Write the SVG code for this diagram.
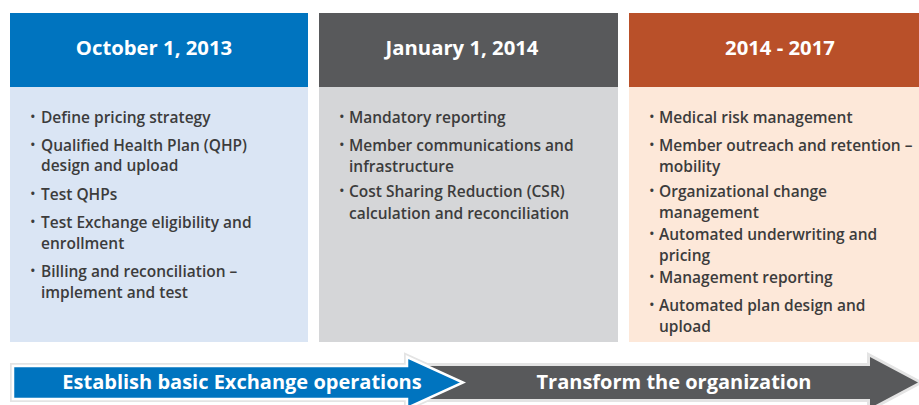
<svg xmlns="http://www.w3.org/2000/svg" width="919" height="405" viewBox="0 0 919 405">
<style>
.hd{font-family:"Open Sans","Liberation Sans",sans-serif;font-weight:700;font-size:20.3px;fill:#fff;text-anchor:middle}
.bt{font-family:"Open Sans","Liberation Sans",sans-serif;font-weight:600;font-size:15.5px;fill:#3c3c3c}
.bl{font-family:"Open Sans","Liberation Sans",sans-serif;font-size:15px;fill:#3c3c3c}
.ar{font-family:"Open Sans","Liberation Sans",sans-serif;font-weight:700;font-size:20px;fill:#fff;text-anchor:middle}
</style>
<rect width="919" height="405" fill="#fff"/>
<g id="col1">
<rect x="10" y="13" width="298" height="74" fill="#0074bf"/>
<rect x="10" y="87" width="298" height="255" fill="#dae5f4"/>
<text class="hd" x="154" y="55">October 1, 2013</text>
<g class="bl"><text x="30" y="122">•</text><text x="30" y="150">•</text><text x="30" y="199">•</text><text x="30" y="227">•</text><text x="30" y="276">•</text></g>
<text class="bt" x="41" y="122.5">Define pricing strategy</text>
<text class="bt" x="41" y="150.5">Qualified Health Plan (QHP)</text>
<text class="bt" x="41" y="170.5">design and upload</text>
<text class="bt" x="41" y="199.5">Test QHPs</text>
<text class="bt" x="41" y="227.5">Test Exchange eligibility and</text>
<text class="bt" x="41" y="248.5">enrollment</text>
<text class="bt" x="41" y="276.5">Billing and reconciliation –</text>
<text class="bt" x="41" y="297.5">implement and test</text>
</g>
<g id="col2">
<rect x="319" y="13" width="299" height="74" fill="#58595b"/>
<rect x="319" y="87" width="299" height="255" fill="#d5d6d8"/>
<text class="hd" x="462" y="55">January 1, 2014</text>
<g class="bl"><text x="339" y="122">•</text><text x="339" y="150">•</text><text x="339" y="196">•</text></g>
<text class="bt" x="349" y="122.5">Mandatory reporting</text>
<text class="bt" x="349" y="150.5">Member communications and</text>
<text class="bt" x="349" y="171.5">infrastructure</text>
<text class="bt" x="349" y="196.5">Cost Sharing Reduction (CSR)</text>
<text class="bt" x="349" y="218.5">calculation and reconciliation</text>
</g>
<g id="col3">
<rect x="629" y="13" width="290" height="74" fill="#b95029"/>
<rect x="629" y="87" width="290" height="255" fill="#fde8d9"/>
<text class="hd" x="780" y="55">2014 - 2017</text>
<g class="bl"><text x="649" y="122">•</text><text x="649" y="150">•</text><text x="649" y="196">•</text><text x="649" y="239">•</text><text x="649" y="282">•</text><text x="649" y="310">•</text></g>
<text class="bt" x="659" y="122.5">Medical risk management</text>
<text class="bt" x="659" y="150.5">Member outreach and retention –</text>
<text class="bt" x="659" y="171.5">mobility</text>
<text class="bt" x="659" y="196.5">Organizational change</text>
<text class="bt" x="659" y="217.5">management</text>
<text class="bt" x="659" y="239.5">Automated underwriting and</text>
<text class="bt" x="659" y="260.5">pricing</text>
<text class="bt" x="659" y="282.5">Management reporting</text>
<text class="bt" x="659" y="310.5">Automated plan design and</text>
<text class="bt" x="659" y="331.5">upload</text>
</g>
<g id="arrows">
<g fill="none" stroke="#e4e4e4" stroke-width="6" stroke-linejoin="miter">
<polygon points="13,366 407,366 407,357 463,382.5 407,408 407,399 13,399"/>
<polygon points="400,366 870,366 870,357 918,382.5 870,408 870,399 400,399"/>
</g>
<polygon points="400,366 870,366 870,357 918,382.5 870,408 870,399 400,399" fill="#58595b"/>
<polygon points="13,366 407,366 407,357 463,382.5 407,408 407,399 13,399" fill="#0074bf" stroke="#fff" stroke-width="2.5" stroke-linejoin="miter"/>
<text class="ar" x="242" y="389">Establish basic Exchange operations</text>
<text class="ar" x="674" y="389">Transform the organization</text>
</g>
</svg>
